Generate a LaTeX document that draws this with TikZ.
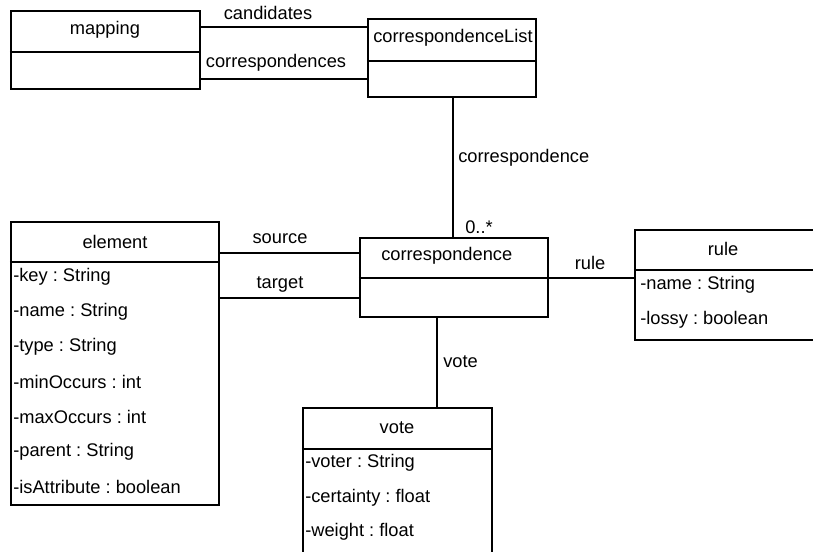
\documentclass[tikz,border=0pt]{standalone}
\usepackage{fontspec}
\setmainfont{Liberation Sans}
\usetikzlibrary{fit}
\frenchspacing
\begin{document}
\begin{tikzpicture}[x=0.75pt,y=-0.75pt,
  classbox/.style={draw=black,line width=1.6pt,inner sep=0pt,fill=white},
  divider/.style={line width=1.5pt},
  conn/.style={line width=1.1pt},
  lbl/.style={inner sep=0pt,font=\fontsize{13.7}{16}\selectfont},
  lblw/.style={lbl,anchor=west},
]
\useasboundingbox[fill=white] (0,0) rectangle (813,552);
\clip (0,0) rectangle (813,552);

% class boxes
\node[classbox,fit={(11,11) (200,89)}] (mapping) {};
\node[classbox,fit={(368,19) (536,97)}] (corrlist) {};
\node[classbox,fit={(11,222) (219,505)}] (element) {};
\node[classbox,fit={(360,238) (548,317)}] (corr) {};
\node[classbox,fit={(635,230) (815,340)}] (rule) {};
\node[classbox,fit={(303,408) (492,570)}] (vote) {};

% compartment dividers
\draw[divider] (mapping.west |- 0,52) -- (mapping.east |- 0,52);
\draw[divider] (corrlist.west |- 0,61) -- (corrlist.east |- 0,61);
\draw[divider] (element.west |- 0,262) -- (element.east |- 0,262);
\draw[divider] (corr.west |- 0,278) -- (corr.east |- 0,278);
\draw[divider] (rule.west |- 0,270) -- (rule.east |- 0,270);
\draw[divider] (vote.west |- 0,449) -- (vote.east |- 0,449);

% class names
\node[lbl] (mappingname) at (105,30) {mapping};
\node[lblw] (corrlistname) at (373,38) {correspondenceList};
\node[lbl] (elementname) at (115,242) {element};
\node[lblw] (corrname) at (381,256) {correspondence};
\node[lbl] (rulename) at (723,249) {rule};
\node[lbl] (votename) at (397,428) {vote};

% attributes
\node[lblw] (ekey) at (13,277) {-key : String};
\node[lblw] (ename) at (13,312) {-name : String};
\node[lblw] (etype) at (13,347) {-type : String};
\node[lblw] (emin) at (13,382) {-minOccurs : int};
\node[lblw] (emax) at (13,417) {-maxOccurs : int};
\node[lblw] (eparent) at (13,452) {-parent : String};
\node[lblw] (eattr) at (13,487) {-isAttribute : boolean};

\node[lblw] (rname) at (640,285) {-name : String};
\node[lblw] (rlossy) at (640,320) {-lossy : boolean};

\node[lblw] (vvoter) at (305,463) {-voter : String};
\node[lblw] (vcert) at (305,498) {-certainty : float};
\node[lblw] (vweight) at (305,532) {-weight : float};

% associations
\draw[conn] (mapping.east |- 0,27) -- (corrlist.west |- 0,27);
\draw[conn] (mapping.east |- 0,79) -- (corrlist.west |- 0,79);
\draw[conn] (corrlist.south -| 453,0) -- (corr.north -| 453,0);
\draw[conn] (element.east |- 0,253) -- (corr.west |- 0,253);
\draw[conn] (element.east |- 0,298) -- (corr.west |- 0,298);
\draw[conn] (corr.east |- 0,278) -- (rule.west |- 0,278);
\draw[conn] (corr.south -| 437,0) -- (vote.north -| 437,0);

% association labels
\node[lbl] (lcand) at (268,13) {candidates};
\node[lbl] (lcorrs) at (276,63) {correspondences};
\node[lblw] (lcorr) at (458,158) {correspondence};
\node[lblw] (lmult) at (465,227) {0..*};
\node[lbl] (lsource) at (280,239) {source};
\node[lbl] (ltarget) at (280,284) {target};
\node[lbl] (lrule) at (590,263) {rule};
\node[lblw] (lvote) at (443,362) {vote};
\end{tikzpicture}
\end{document}
